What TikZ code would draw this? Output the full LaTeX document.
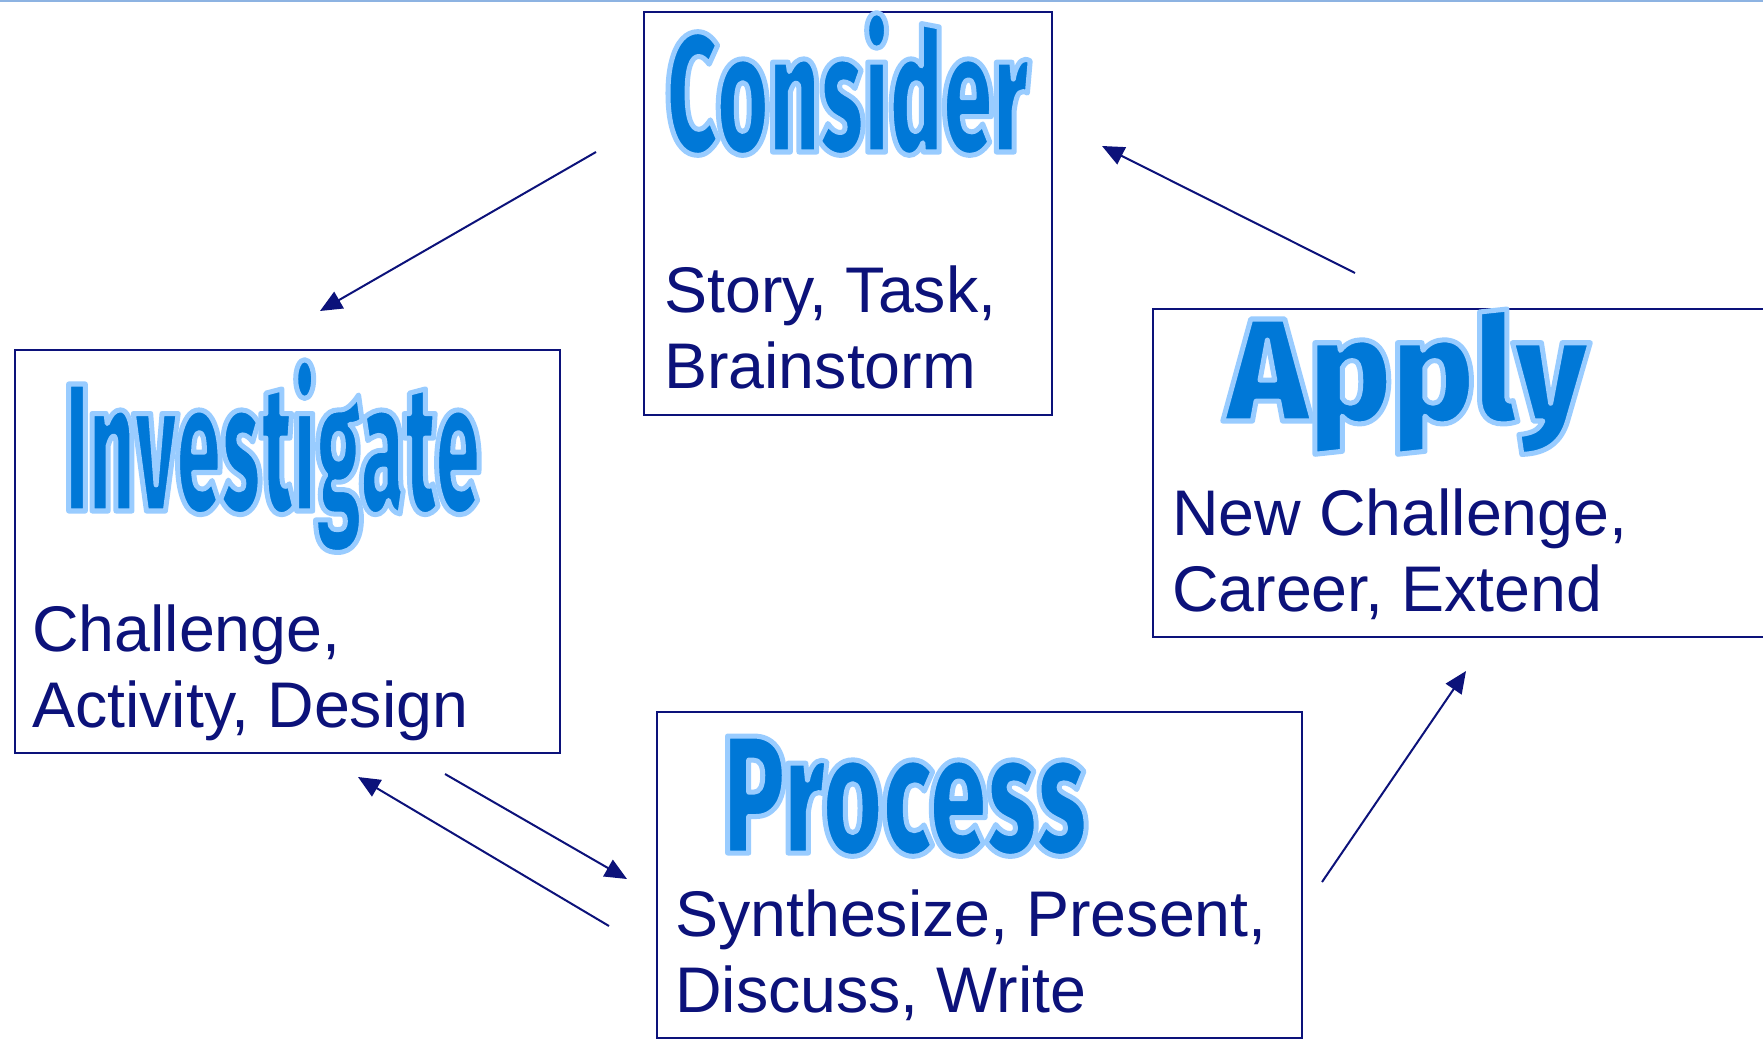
\documentclass[tikz,border=0pt]{standalone}
\usepackage{fontspec}
\setmainfont{Liberation Sans}
\usetikzlibrary{arrows.meta}
\definecolor{navy}{RGB}{12,18,122}
\definecolor{artblue}{RGB}{0,120,215}
\definecolor{rulecol}{RGB}{141,179,226}
\IfFontExistsTF{Fira Sans Black}{\def\artname{Fira Sans Black}}{%
	\IfFontExistsTF{Lato Black}{\def\artname{Lato Black}}{\def\artname{Liberation Sans Bold}}}
\newlength\artlen
% word art: cap height, width, word
\newcommand\artword[3]{%
	\fontspec{\artname}\fontsize{100}{100}\selectfont
	\settoheight\artlen{H}%
	\pgfmathsetmacro\artsize{100*#1/\artlen}%
	\fontsize{\artsize}{\artsize}\selectfont
	\settowidth\artlen{#3}%
	\pgfmathsetmacro\artstretch{#2/\artlen}%
	\fontspec{\artname}[FakeStretch=\artstretch]\fontsize{\artsize}{\artsize}\selectfont
	\special{pdf:literal direct 0.6 0.8 1 RG 5 w 1 j 2 Tr}#3\special{pdf:literal direct 0 Tr}}
\tikzset{
	boxstyle/.style={rectangle,draw=navy,line width=2pt,fill=white,anchor=north west,inner sep=0pt},
	titlestyle/.style={text=artblue,anchor=base west,inner sep=0pt},
	textstyle/.style={text=navy,align=left,anchor=base west,inner sep=0pt,font=\fontsize{64.5}{76}\selectfont},
	arrowstyle/.style={draw=navy,line width=2pt,-{Triangle[length=22pt,width=19pt]}}
}
\begin{document}
\begin{tikzpicture}[x=1pt,y=-1pt]
	\useasboundingbox (0,0) rectangle (1763,1039);
	\draw[rulecol,line width=2pt] (0,1) -- (1763,1);
	% boxes
	\node[boxstyle,minimum width=408pt,minimum height=403pt] (considerbox) at (643,11) {};
	\node[boxstyle,minimum width=545pt,minimum height=403pt] (investigatebox) at (14,349) {};
	\node[boxstyle,minimum width=620pt,minimum height=328pt] (applybox) at (1152,308) {};
	\node[boxstyle,minimum width=645pt,minimum height=326pt] (processbox) at (656,711) {};
	% titles
	\node[titlestyle] (considertitle) at (666,152) {\artword{117}{363}{Consider}};
	\node[titlestyle] (investigatetitle) at (65,511) {\artword{127}{415}{Investigate}};
	\node[titlestyle] (applytitle) at (1226,421) {\artword{102}{362}{Apply}};
	\node[titlestyle] (processtitle) at (723,853) {\artword{117}{364}{Process}};
	% texts
	\node[textstyle] (considertext) at (664,388) {Story, Task,\\Brainstorm};
	\node[textstyle] (investigatetext) at (32,727) {Challenge,\\Activity, Design};
	\node[textstyle] (applytext) at (1172,611) {New Challenge,\\Career, Extend};
	\node[textstyle] (processtext) at (675,1012) {Synthesize, Present,\\Discuss, Write};
	% arrows
	\coordinate (ci) at (596,152);
	\coordinate (ic) at (320,311);
	\coordinate (ac) at (1355,273);
	\coordinate (ca) at (1102,146);
	\coordinate (ip) at (445,774);
	\coordinate (pi) at (627,879);
	\coordinate (pr) at (609,926);
	\coordinate (ir) at (358,777);
	\coordinate (pa) at (1322,882);
	\coordinate (ap) at (1466,671);
	\draw[arrowstyle] (ci) -- (ic);
	\draw[arrowstyle] (ac) -- (ca);
	\draw[arrowstyle] (ip) -- (pi);
	\draw[arrowstyle] (pr) -- (ir);
	\draw[arrowstyle] (pa) -- (ap);
\end{tikzpicture}
\end{document}
